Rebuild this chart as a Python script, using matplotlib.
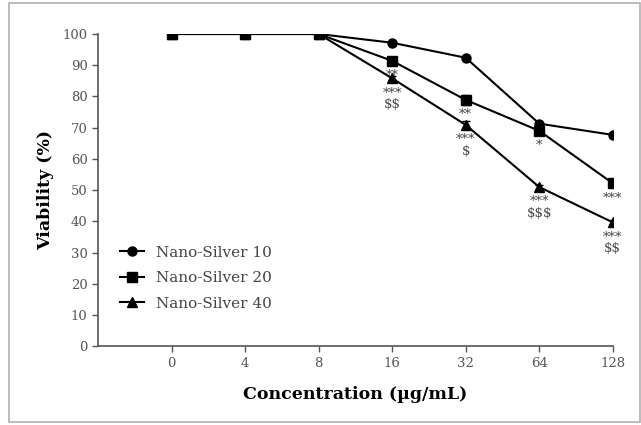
import matplotlib.pyplot as plt
from matplotlib.patches import Rectangle

# data
conc = ["0", "4", "8", "16", "32", "64", "128"]
ns10 = [100, 100, 100, 97.2, 92.4, 71.3, 67.7]
ns20 = [100, 100, 100, 91.4, 78.9, 69.0, 52.2]
ns40 = [100, 100, 100, 85.8, 70.9, 51.0, 39.7]
err20 = [0, 0, 0, 0.8, 1.6, 1.0, 1.2]
err40 = [0, 0, 0, 0.6, 1.4, 0.6, 0.6]

# significance marks (index, text) below each series
sig20 = [(3, "**"), (4, "**"), (5, "*"), (6, "***")]
sig40 = [(3, "***\n$$"), (4, "***\n$"), (5, "***\n$$$"), (6, "***\n$$")]

plt.rcParams["font.family"] = ["DejaVu Serif"]
plt.rcParams["text.parse_math"] = False

fig = plt.figure(figsize=(6.41, 4.25), dpi=100)
ax = fig.add_axes([0.153, 0.185, 0.803, 0.735])

x = list(range(len(conc)))
ax.errorbar(x, ns20, yerr=err20, fmt="none", ecolor="black", lw=1.2, capsize=3)
ax.errorbar(x, ns40, yerr=err40, fmt="none", ecolor="black", lw=1.2, capsize=3)
ax.plot(x, ns10, color="black", marker="o", markersize=6.5, lw=1.5,
        label="Nano-Silver 10")
ax.plot(x, ns20, color="black", marker="s", markersize=7, lw=1.5,
        label="Nano-Silver 20")
ax.plot(x, ns40, color="black", marker="^", markersize=6.5, lw=1.5,
        label="Nano-Silver 40")

for i, t in sig20:
    ax.annotate(t, (x[i], ns20[i]), xytext=(0, -6), textcoords="offset points",
                ha="center", va="top", fontsize=9.5, color="#444444",
                linespacing=0.85)
for i, t in sig40:
    ax.annotate(t, (x[i], ns40[i]), xytext=(0, -6), textcoords="offset points",
                ha="center", va="top", fontsize=9.5, color="#444444",
                linespacing=0.85)

ax.set_xlim(-1, 6)
ax.set_ylim(0, 100)
ax.set_xticks(x)
ax.set_xticklabels(conc)
ax.set_yticks(range(0, 101, 10))
ax.tick_params(labelsize=9.5, labelcolor="#555555", length=4, width=1,
               color="#555555")
for s in ["top", "right"]:
    ax.spines[s].set_visible(False)
for s in ["left", "bottom"]:
    ax.spines[s].set_color("#555555")
    ax.spines[s].set_linewidth(1.2)

ax.set_xlabel("Concentration (µg/mL)", fontsize=12.5, fontweight="bold",
              labelpad=12)
ax.set_ylabel("Viability (%)", fontsize=12.5, fontweight="bold", labelpad=6)

leg = ax.legend(loc="lower left", bbox_to_anchor=(0.015, 0.07), frameon=False,
                fontsize=11, handlelength=1.6, labelspacing=0.75)
for t in leg.get_texts():
    t.set_color("#444444")

# outer frame
fig.patches.append(Rectangle((0.014, 0.006), 0.985, 0.988, transform=fig.transFigure,
                             fill=False, edgecolor="#b0b0b0", lw=1.2))

fig.savefig("out.png", dpi=100)
